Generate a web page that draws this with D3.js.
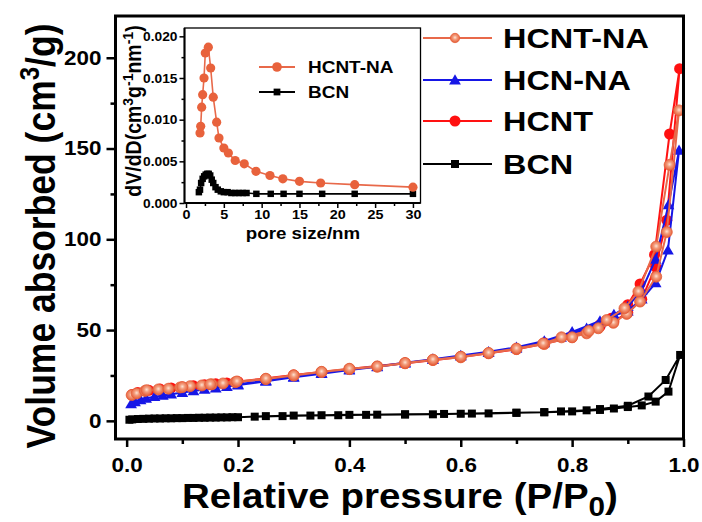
<!DOCTYPE html>
<html><head><meta charset="utf-8">
<script src="https://cdn.jsdelivr.net/npm/d3@7"></script>
<style>
body{margin:0;background:#fff}
svg{display:block}
text{font-family:"Liberation Sans",Arial,Helvetica,sans-serif;font-weight:bold;fill:#000}
</style>
</head><body>
<svg id="c" width="702" height="522"></svg>
<script>
// ---------------- DATA ----------------
const seriesNames = ["HCNT-NA","HCN-NA","HCNT","BCN"];

// HCNT-NA isotherm (adsorption then desorption)
const hcntnaAdsP = [0.009,0.018,0.033,0.057,0.075,0.096,0.114,0.135,0.153,0.173,0.195,0.25,0.30,0.35,0.40,0.45,0.50,0.55,0.60,0.65,0.70,0.75,0.80,0.826,0.847,0.874,0.898,0.922,0.951,0.970,0.992];
const hcntnaAdsV = [14.2,15.1,16.5,17.3,17.7,18.4,19.1,19.5,20.1,20.6,21.3,23.0,25.0,26.9,28.5,29.8,31.7,33.5,35.0,37.2,39.5,42.3,46.0,48.2,51.0,54.0,58.9,65.7,79.4,104,171];
const hcntnaDesP = [0.975,0.951,0.919,0.894,0.862,0.830,0.781,0.748,0.70,0.65,0.60,0.55,0.50,0.45,0.40,0.35,0.30,0.25,0.198,0.15,0.10,0.036];
const hcntnaDesV = [141,96,71.2,62,55.5,49.5,46,42.6,39.8,37.4,35.3,33.7,31.9,30.0,28.7,27.0,25.1,23.2,21.7,20.1,18.6,16.9];

// HCN-NA isotherm
const hcnnaAdsP = [0.008,0.015,0.025,0.035,0.05,0.065,0.08,0.10,0.12,0.14,0.16,0.18,0.20,0.25,0.30,0.35,0.40,0.45,0.50,0.55,0.60,0.65,0.70,0.75,0.78,0.80,0.826,0.85,0.875,0.90,0.925,0.95,0.972,0.992];
const hcnnaAdsV = [9.3,10.5,11.6,12.4,13.3,14.0,14.7,15.6,16.5,17.3,18.1,18.9,19.7,21.8,24.0,26.0,28.0,29.8,31.8,33.8,35.6,37.6,40.0,43.0,46.0,48.0,51.0,54.0,58.0,60.5,67.0,76.0,94.0,149];
const hcnnaDesP = [0.973,0.95,0.925,0.90,0.875,0.85,0.80,0.75,0.70,0.65,0.60,0.55,0.50,0.45,0.40,0.35,0.30,0.25,0.20];
const hcnnaDesV = [119,89,72,63,58.5,55,49,44,40.5,38,36,34,32,30,28.3,26.3,24.3,22.2,20.1];

// HCNT isotherm
const hcntAdsP = [0.01,0.02,0.04,0.06,0.08,0.10,0.12,0.14,0.16,0.18,0.20,0.25,0.30,0.35,0.40,0.45,0.50,0.55,0.60,0.65,0.70,0.75,0.80,0.85,0.875,0.90,0.925,0.95,0.97,0.993];
const hcntAdsV = [14.5,15.6,16.8,17.5,18.1,18.7,19.3,19.9,20.4,20.9,21.4,23.1,25.0,26.8,28.4,30.0,31.7,33.4,35.2,37.2,39.4,42.5,46.0,52.0,55.0,59.5,67.0,85.0,110.5,194];
const hcntDesP = [0.975,0.948,0.922,0.90,0.87,0.85,0.80,0.75,0.70,0.60,0.50,0.40,0.30,0.20];
const hcntDesV = [158,91.5,75.4,64,56.5,53,47,43,39.8,35.4,31.9,28.6,25.2,21.6];

// BCN isotherm
const bcnAdsP = [0.005,0.01,0.02,0.03,0.04,0.05,0.06,0.07,0.08,0.09,0.10,0.11,0.12,0.13,0.14,0.15,0.16,0.17,0.18,0.19,0.20,0.25,0.30,0.35,0.40,0.45,0.50,0.55,0.60,0.65,0.70,0.75,0.80,0.85,0.875,0.90,0.925,0.95,0.973,0.994];
const bcnAdsV = [0.6,0.8,1.0,1.1,1.2,1.3,1.3,1.4,1.4,1.5,1.5,1.6,1.6,1.7,1.7,1.8,1.8,1.9,1.9,2.0,2.0,2.6,2.9,3.1,3.3,3.4,3.5,3.6,3.9,4.1,4.4,4.7,5.2,6.0,6.8,7.6,8.5,10.6,16.1,36.3];
const bcnDesP = [0.968,0.937,0.90,0.85,0.826,0.78,0.75,0.70,0.62,0.57,0.50,0.43,0.38,0.33,0.28,0.23];
const bcnDesV = [22.5,13.4,8.3,6.5,5.8,5.2,4.8,4.5,4.0,3.8,3.6,3.3,3.1,2.9,2.6,2.3];

// Inset: pore size distribution
const psdHcntnaD = [1.85,1.94,2.07,2.2,2.38,2.55,2.95,3.26,3.6,4.05,4.36,5.0,5.6,6.5,7.7,9.25,11.1,12.8,15.0,17.8,22.3,30.0];
const psdHcntnaV = [0.0084,0.0092,0.0115,0.0130,0.0150,0.0180,0.0187,0.0162,0.0127,0.0097,0.0078,0.0066,0.0060,0.0051,0.0047,0.0038,0.0033,0.0029,0.0026,0.0024,0.0022,0.0019];
const psdBcnD = [1.7,1.85,2.0,2.2,2.4,2.6,2.8,3.0,3.2,3.4,3.6,3.9,4.2,4.6,5.0,5.5,6.0,6.5,7.0,7.5,8.0,9.3,11.2,12.9,15.0,18.0,22.3,30.0];
const psdBcnV = [0.0013,0.0016,0.0024,0.0029,0.0032,0.0034,0.0035,0.0035,0.0033,0.0028,0.0024,0.0019,0.0016,0.0014,0.0013,0.0013,0.0012,0.0012,0.0012,0.0012,0.0012,0.0011,0.0011,0.0011,0.0011,0.0011,0.0011,0.0011];

// Ticks
const xMajorTicks = [0,0.2,0.4,0.6,0.8,1.0];
const xMinorTicks = [0.1,0.3,0.5,0.7,0.9];
const yMajorTicks = [0,50,100,150,200];
const yMinorTicks = [25,75,125,175];
const insetXMajor = [0,5,10,15,20,25,30];
const insetXMinor = [2.5,7.5,12.5,17.5,22.5,27.5];
const insetYMajor = [0,0.005,0.010,0.015,0.020];
const insetYMinor = [0.0025,0.0075,0.0125,0.0175];

// ---------------- DRAW ----------------
const svg = d3.select("#c");
const defs = svg.append("defs");
const grad = defs.append("radialGradient").attr("id","gOr").attr("cx","50%").attr("cy","45%").attr("r","55%");
grad.append("stop").attr("offset","0%").attr("stop-color","#fde3d3");
grad.append("stop").attr("offset","40%").attr("stop-color","#f39c7c");
grad.append("stop").attr("offset","100%").attr("stop-color","#e55c36");

const colors = {"HCNT-NA":"#e8694a","HCN-NA":"#1616e6","HCNT":"#ff1212","BCN":"#000000"};

function stretch(sel,k){
  sel.each(function(){
    const w=this.getComputedTextLength();
    this.setAttribute("textLength", (w*k).toFixed(1));
    this.setAttribute("lengthAdjust","spacingAndGlyphs");
  });
}

function marker(g, name, cx, cy, s){
  if(name==="HCNT-NA"){
    g.append("circle").attr("cx",cx).attr("cy",cy).attr("r",5.5*s).attr("fill","url(#gOr)").attr("stroke","#e4603a").attr("stroke-width",0.8);
  } else if(name==="HCNT"){
    g.append("circle").attr("cx",cx).attr("cy",cy).attr("r",5.5*s).attr("fill","#ff1010");
  } else if(name==="HCN-NA"){
    g.append("path").attr("d",d3.symbol(d3.symbolTriangle, 60*s*s)()).attr("transform",`translate(${cx},${cy+1})`).attr("fill","#1616e6");
  } else {
    g.append("path").attr("d",d3.symbol(d3.symbolSquare, 64*s*s)()).attr("transform",`translate(${cx},${cy})`).attr("fill","#000");
  }
}

// main scales
const x = d3.scaleLinear().domain([-0.02,1.0]).range([115.5,683.5]);
const y = d3.scaleLinear().domain([-10,223]).range([439,16]);

const series = [
  {name:"BCN", p:bcnAdsP.concat(bcnDesP), v:bcnAdsV.concat(bcnDesV)},
  {name:"HCNT", p:hcntAdsP.concat(hcntDesP), v:hcntAdsV.concat(hcntDesV)},
  {name:"HCN-NA", p:hcnnaAdsP.concat(hcnnaDesP), v:hcnnaAdsV.concat(hcnnaDesV)},
  {name:"HCNT-NA", p:hcntnaAdsP.concat(hcntnaDesP), v:hcntnaAdsV.concat(hcntnaDesV)}
];

const line = d3.line().x(d=>x(d[0])).y(d=>y(d[1]));
const gData = svg.append("g");
series.forEach(s=>{
  const pts = s.p.map((p,i)=>[p,s.v[i]]);
  gData.append("path").attr("d",line(pts)).attr("fill","none").attr("stroke",colors[s.name]).attr("stroke-width",2);
  const gm = gData.append("g");
  pts.forEach(d=>marker(gm, s.name, x(d[0]), y(d[1]), 1));
});

// axes
function styleAxis(g, fs){
  g.attr("font-family",'"Liberation Sans",Arial,sans-serif');
  g.select(".domain").remove();
  g.selectAll("line").attr("stroke","#000");
  g.selectAll("text").attr("font-size",fs).attr("font-weight","bold").attr("fill","#000");
}
const gx = svg.append("g").attr("transform","translate(0,439)")
  .call(d3.axisBottom(x).tickValues(xMajorTicks).tickFormat(d3.format(".1f")).tickSize(8).tickPadding(11));
styleAxis(gx,19.5); gx.selectAll("line").attr("stroke-width",2.5);
stretch(gx.selectAll("text"),1.15);
const gx2 = svg.append("g").attr("transform","translate(0,439)")
  .call(d3.axisBottom(x).tickValues(xMinorTicks).tickFormat("").tickSize(5));
styleAxis(gx2,19); gx2.selectAll("line").attr("stroke-width",2.5);

const gy = svg.append("g").attr("transform","translate(115.5,0)")
  .call(d3.axisLeft(y).tickValues(yMajorTicks).tickFormat(d3.format("d")).tickSize(9).tickPadding(5));
styleAxis(gy,19.5); gy.selectAll("line").attr("stroke-width",2.5);
stretch(gy.selectAll("text"),1.15);
const gy2 = svg.append("g").attr("transform","translate(115.5,0)")
  .call(d3.axisLeft(y).tickValues(yMinorTicks).tickFormat("").tickSize(5));
styleAxis(gy2,19); gy2.selectAll("line").attr("stroke-width",2.5);

// frame
svg.append("rect").attr("x",115.5).attr("y",16).attr("width",568).attr("height",423)
  .attr("fill","none").attr("stroke","#000").attr("stroke-width",3);

// axis titles
const xt = svg.append("text").attr("x",400).attr("y",508).attr("text-anchor","middle").attr("font-size",35);
xt.append("tspan").text("Relative pressure (P/P");
xt.append("tspan").attr("font-size",27).attr("dy",8).text("0");
xt.append("tspan").attr("dy",-8).text(")");
stretch(xt,1.1);

const yt = svg.append("text").attr("transform","translate(55,236) scale(1.12,1) rotate(-90)").attr("text-anchor","middle").attr("font-size",35.5);
yt.append("tspan").text("Volume absorbed (cm");
yt.append("tspan").attr("font-size",24).attr("dy",-14).text("3");
yt.append("tspan").attr("dy",14).text("/g)");

// main legend
const legRows = [38,80,121,164];
const gLeg = svg.append("g");
seriesNames.forEach((n,i)=>{
  const yy = legRows[i];
  gLeg.append("line").attr("x1",423).attr("x2",492).attr("y1",yy).attr("y2",yy).attr("stroke",colors[n]).attr("stroke-width",2);
  marker(gLeg, n, 455, yy, n==="HCNT-NA"?0.85:1);
  const t = gLeg.append("text").attr("x",503).attr("y",yy+10).attr("font-size",27).text(n);
  stretch(t,1.2);
});

// ---------------- INSET ----------------
const ix = d3.scaleLinear().domain([-0.2,31]).range([184.5,420.5]);
const iy = d3.scaleLinear().domain([0,0.021]).range([203,28]);
svg.append("rect").attr("x",184.5).attr("y",28).attr("width",236).attr("height",175)
  .attr("fill","#fff").attr("stroke","#000").attr("stroke-width",1.3);

const ilineGen = d3.line().x(d=>ix(d[0])).y(d=>iy(d[1]));
const insetSeries = [
  {name:"BCN", d:psdBcnD, v:psdBcnV},
  {name:"HCNT-NA", d:psdHcntnaD, v:psdHcntnaV}
];
insetSeries.forEach(s=>{
  const pts = s.d.map((d,i)=>[d,s.v[i]]);
  svg.append("path").attr("d",ilineGen(pts)).attr("fill","none").attr("stroke",colors[s.name]).attr("stroke-width",1.6);
  const gm = svg.append("g");
  pts.forEach(p=>{
    if(s.name==="HCNT-NA") gm.append("circle").attr("cx",ix(p[0])).attr("cy",iy(p[1])).attr("r",4.6).attr("fill","#e8623c");
    else gm.append("path").attr("d",d3.symbol(d3.symbolSquare,42)()).attr("transform",`translate(${ix(p[0])},${iy(p[1])})`).attr("fill","#000");
  });
});

const igx = svg.append("g").attr("transform","translate(0,203)")
  .call(d3.axisBottom(ix).tickValues(insetXMajor).tickFormat(d3.format("d")).tickSize(5).tickPadding(2));
styleAxis(igx,12.5); igx.selectAll("line").attr("stroke-width",1.5);
stretch(igx.selectAll("text"),1.15);
const igx2 = svg.append("g").attr("transform","translate(0,203)")
  .call(d3.axisBottom(ix).tickValues(insetXMinor).tickFormat("").tickSize(3));
styleAxis(igx2,12); igx2.selectAll("line").attr("stroke-width",1.5);
const igy = svg.append("g").attr("transform","translate(184.5,0)")
  .call(d3.axisLeft(iy).tickValues(insetYMajor).tickFormat(d3.format(".3f")).tickSize(5).tickPadding(2));
styleAxis(igy,12.5); igy.selectAll("line").attr("stroke-width",1.5);
stretch(igy.selectAll("text"),1.1);
const igy2 = svg.append("g").attr("transform","translate(184.5,0)")
  .call(d3.axisLeft(iy).tickValues(insetYMinor).tickFormat("").tickSize(3));
styleAxis(igy2,12); igy2.selectAll("line").attr("stroke-width",1.5);
// thicker inset axes
svg.append("line").attr("x1",184.5).attr("x2",184.5).attr("y1",28).attr("y2",203).attr("stroke","#000").attr("stroke-width",2);
svg.append("line").attr("x1",184.5).attr("x2",420.5).attr("y1",203).attr("y2",203).attr("stroke","#000").attr("stroke-width",2);

const ixt = svg.append("text").attr("x",303).attr("y",239).attr("text-anchor","middle").attr("font-size",17).text("pore size/nm");
stretch(ixt,1.1);

const iyt = svg.append("text").attr("transform","translate(141,111) scale(1.1,1) rotate(-90)").attr("text-anchor","middle").attr("font-size",19.5);
iyt.append("tspan").text("dV/dD(cm");
iyt.append("tspan").attr("font-size",14).attr("dy",-7).text("3");
iyt.append("tspan").attr("dy",7).text("g");
iyt.append("tspan").attr("font-size",14).attr("dy",-7).text("-1");
iyt.append("tspan").attr("dy",7).text("nm");
iyt.append("tspan").attr("font-size",14).attr("dy",-7).text("-1");
iyt.append("tspan").attr("dy",7).text(")");

// inset legend
const insetLegNames = ["HCNT-NA","BCN"];
const insetLegRows = [67,92];
insetLegNames.forEach((n,i)=>{
  const yy = insetLegRows[i];
  svg.append("line").attr("x1",259).attr("x2",295).attr("y1",yy).attr("y2",yy).attr("stroke",colors[n]).attr("stroke-width",1.8);
  if(n==="HCNT-NA") svg.append("circle").attr("cx",277).attr("cy",yy).attr("r",4.8).attr("fill","#e8623c");
  else svg.append("path").attr("d",d3.symbol(d3.symbolSquare,46)()).attr("transform",`translate(277,${yy})`).attr("fill","#000");
  const t = svg.append("text").attr("x",308).attr("y",yy+6).attr("font-size",16.5).text(n);
  stretch(t,1.15);
});
</script>
</body></html>
